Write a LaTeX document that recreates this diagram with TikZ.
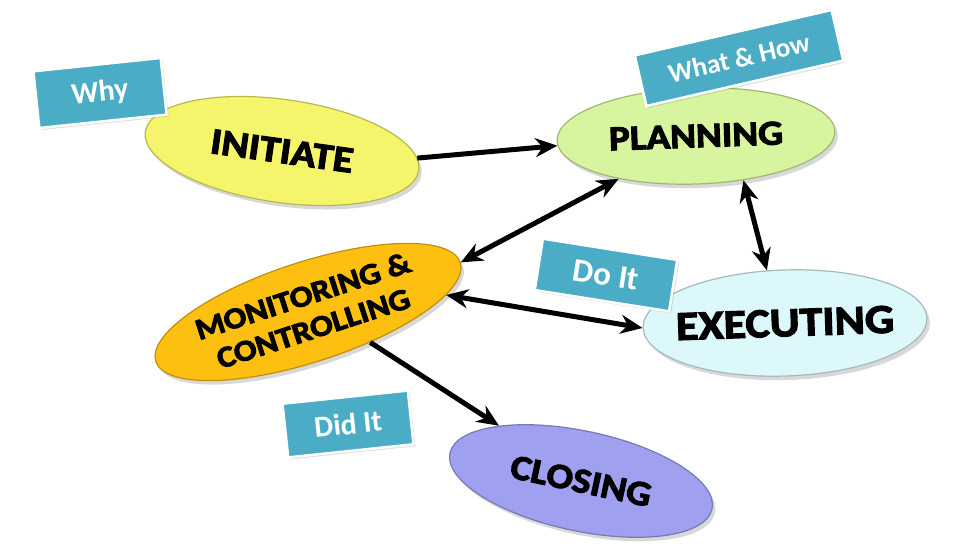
\documentclass[tikz,border=0pt]{standalone}
\usepackage{fontspec}
\setmainfont{Carlito}
\newfontfamily\blobfont{Carlito}[FakeStretch=1.12, BoldFeatures={FakeBold=3}]
\usetikzlibrary{shapes.geometric,shadows,arrows.meta}
\definecolor{initC}{HTML}{F5F56B}
\definecolor{planC}{HTML}{D6F59E}
\definecolor{monC}{HTML}{FDC010}
\definecolor{execC}{HTML}{DCF8FB}
\definecolor{closeC}{HTML}{A0A0F0}
\definecolor{tagC}{HTML}{4BACC6}

\begin{document}
\begin{tikzpicture}[x=1pt,y=-1pt,
    >={Stealth[length=22pt,width=19pt]},
    phase/.style 2 args={ellipse, inner xsep=-20pt, inner ysep=0pt, fill=#1, draw=#1!75!black, line width=1.2pt,
      font=\blobfont\bfseries\fontsize{#2}{\dimexpr#2pt+4pt\relax}\selectfont, align=center,
      drop shadow={shadow xshift=3pt, shadow yshift=-4pt, opacity=.3}},
    tag/.style={rectangle, fill=tagC, draw=white, line width=2.5pt, text=white,
      font=\bfseries\fontsize{#1}{#1}\selectfont, inner sep=0pt,
      drop shadow={shadow xshift=2pt, shadow yshift=-2pt, opacity=.25}},
    link/.style={line width=5pt}]
  \path[use as bounding box, fill=white] (0,0) rectangle (960,556);

  \node[phase={initC}{37}, rotate=-8, minimum width=276pt, minimum height=103pt] (init) at (282,151) {INITIATE};
  \node[phase={planC}{35}, rotate=2, minimum width=278pt, minimum height=96pt] (plan) at (696,136) {PLANNING};
  \node[phase={monC}{30}, rotate=18, minimum width=320pt, minimum height=100pt] (mon) at (308,312) {MONITORING \&\\ CONTROLLING};
  \node[phase={execC}{41}, rotate=2, minimum width=284pt, minimum height=106pt] (exec) at (785,323) {EXECUTING};
  \node[phase={closeC}{35}, rotate=-12, minimum width=268pt, minimum height=100pt] (close) at (581,481) {CLOSING};

  \node[tag=30, rotate=6, minimum width=128pt, minimum height=57pt] (why) at (100,93) {Why};
  \node[tag=27, rotate=13, minimum width=202pt, minimum height=52pt] (whathow) at (739,58) {What \& How};
  \node[tag=33, rotate=-9, minimum width=136pt, minimum height=52pt] (doit) at (606,275) {Do It};
  \node[tag=30, rotate=6, minimum width=126pt, minimum height=54pt] (didit) at (348,424) {Did It};

  \draw[link, ->]  (init.5)   -- (plan.182);
  \draw[link, <->] (plan.207) -- (mon.0);
  \draw[link, <->] (plan.-45) -- (exec.107);
  \draw[link, <->] (mon.-11)  -- (exec.west);
  \draw[link, ->]  (mon.-44)  -- (close.158);
\end{tikzpicture}
\end{document}
